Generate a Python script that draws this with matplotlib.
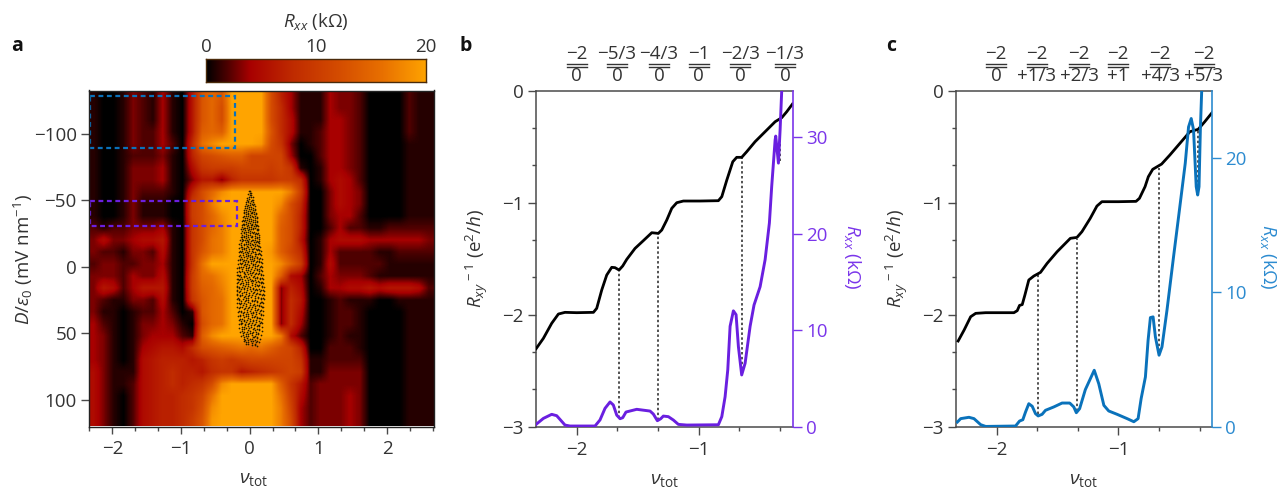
import numpy as np
import matplotlib
matplotlib.use("Agg")
import matplotlib.pyplot as plt
from matplotlib.colors import LinearSegmentedColormap
from matplotlib.lines import Line2D
from matplotlib.patches import Rectangle
from matplotlib.ticker import MultipleLocator, FixedLocator

plt.rcParams['font.family'] = ['Open Sans', 'DejaVu Sans']
plt.rcParams['mathtext.fontset'] = 'custom'
plt.rcParams['mathtext.rm'] = 'Open Sans'
plt.rcParams['mathtext.it'] = 'Open Sans:italic'
plt.rcParams['mathtext.bf'] = 'Open Sans:bold'

W, H = 1277, 487
TXT = '#333333'
AX = '#4a4a4a'
PURPLE = '#6a1fe0'
BLUE = '#0a72bb'
FS = 13.5

# Panel a: Rxx (kOhm) read on a coarse grid; columns nu_tot, rows D/eps0
rxx_map = [
 [1,0,0,1,3,2,1,4,1,0,6,13,15,13,20,20,20,20,12,7,4,1,1,1,4,3,3,2,0,0,0,0,2,1,1],
 [1,0,0,1,3,2,1,4,1,0,6,13,15,12,20,20,20,20,12,8,4,1,1,1,4,3,3,2,0,0,0,0,2,1,1],
 [1,0,0,1,3,2,1,4,1,0,6,13,15,12,20,20,20,20,12,8,5,1,1,1,4,4,3,2,0,0,0,0,2,1,1],
 [1,0,0,1,3,2,2,4,1,0,6,14,15,14,20,20,20,20,13,8,5,1,1,2,4,4,3,2,0,0,0,0,2,1,1],
 [1,0,0,1,3,2,2,4,2,0,8,16,18,20,20,20,20,19,12,9,3,0,1,2,4,4,3,2,0,0,0,0,1,1,1],
 [1,0,0,1,2,2,2,3,1,0,7,11,12,13,14,14,11,11,11,11,4,0,0,2,4,4,3,2,0,0,0,0,1,1,1],
 [1,0,0,1,3,3,3,4,1,0,5,9,10,10,10,11,11,11,10,11,9,1,0,1,4,4,3,2,0,0,0,0,1,1,1],
 [1,0,0,1,3,3,3,4,1,0,3,6,6,3,7,9,9,9,9,10,10,8,0,1,4,5,4,2,0,0,0,0,1,1,1],
 [1,0,0,1,3,2,2,2,1,0,7,12,15,18,20,20,20,20,20,20,17,10,0,0,3,5,4,3,0,0,0,0,1,1,1],
 [1,0,0,1,3,1,1,1,0,0,10,12,17,20,20,20,20,20,20,18,12,8,0,0,3,5,4,3,0,0,0,0,1,1,1],
 [1,0,0,1,3,1,1,1,0,0,10,12,15,18,20,20,20,20,20,15,12,7,0,0,3,4,4,2,0,0,0,0,1,1,1],
 [2,1,2,2,3,3,3,4,1,0,9,12,15,17,20,20,20,20,20,14,12,7,0,0,2,4,2,2,1,1,2,2,2,2,2],
 [3,5,3,3,4,5,5,6,1,0,9,12,16,17,20,20,20,20,20,14,12,6,0,1,4,5,5,5,4,4,4,4,4,4,3],
 [3,2,2,1,3,3,2,5,1,0,9,13,16,17,20,20,20,20,19,14,11,8,0,1,4,2,2,2,2,1,1,2,2,2,2],
 [2,3,3,2,2,3,3,4,1,0,9,16,20,20,20,20,20,20,20,18,14,10,0,1,5,2,2,2,2,2,1,1,1,1,1],
 [3,3,3,2,4,3,3,5,1,0,10,15,16,18,20,20,20,20,20,14,5,4,0,2,4,3,3,3,2,1,1,1,1,1,1],
 [3,6,5,2,4,6,6,6,1,0,10,14,15,17,20,20,20,20,20,3,7,5,0,1,4,4,5,5,6,5,6,6,6,5,2],
 [3,2,1,1,3,3,2,5,1,0,9,13,15,16,20,20,20,20,20,3,8,6,0,0,1,2,1,1,1,0,0,1,1,1,1],
 [3,1,1,0,1,2,2,4,2,0,1,13,15,16,20,20,20,20,20,3,8,5,0,0,1,2,2,1,0,0,0,0,1,1,1],
 [4,2,1,0,1,3,3,4,3,1,0,12,15,16,20,20,20,20,20,3,8,4,0,0,1,2,2,1,0,0,0,0,1,1,1],
 [4,3,1,0,1,3,4,4,4,2,1,14,18,20,20,20,20,20,20,17,5,2,0,0,1,2,1,1,0,0,0,0,1,1,1],
 [4,3,1,0,1,4,5,6,6,5,8,12,13,14,15,16,15,16,14,12,11,7,0,0,2,2,2,1,0,0,0,0,1,1,1],
 [4,3,1,0,1,5,6,7,7,7,6,7,9,10,9,10,11,11,11,11,11,9,1,1,2,2,2,2,0,0,0,0,1,1,1],
 [5,3,1,1,1,5,6,7,8,7,7,6,8,9,9,6,7,8,9,10,11,10,1,1,3,3,3,3,0,0,0,0,1,1,1],
 [5,3,1,1,2,5,6,7,8,7,8,9,12,18,20,20,20,20,20,14,9,6,2,3,3,3,3,3,0,0,0,0,1,1,1],
 [5,3,1,0,2,5,6,7,7,8,9,11,16,20,20,20,20,20,20,16,10,5,2,3,3,3,4,3,0,0,0,0,1,1,1],
 [5,3,1,0,2,5,6,7,7,8,9,12,18,20,20,20,20,20,20,17,11,4,2,3,3,3,4,3,0,0,0,0,1,1,1],
 [5,3,1,0,2,5,6,7,7,8,10,13,19,20,20,20,20,20,20,17,12,4,2,3,3,3,4,3,0,0,0,0,1,1,1],
]
map_extent = [-2.336, 2.684, 120, -132.6]
cbar_ticks = [0, 10, 20]
xticks_a = [-2, -1, 0, 1, 2]
yticks_a = [-100, -50, 0, 50, 100]

# speckled patch in panel a
speck_D = [-57,-54,-51,-48,-45,-42,-39,-36,-33,-30,-27,-24,-21,-18,-15,-12,-9,-6,-3,0,3,6,9,12,15,18,21,24,27,30,33,36,39,42,45,48,51,54,57]
speck_nu = [
 [-0.01,0.01],
 [-0.03,0.00,0.02],
 [-0.04,-0.01,0.03,0.05],
 [-0.06,-0.03,0.01,0.04,0.06],
 [-0.07,-0.04,-0.01,0.02,0.05,0.08],
 [-0.08,-0.05,-0.02,0.00,0.03,0.06,0.09],
 [-0.09,-0.06,-0.03,0.01,0.04,0.07,0.10],
 [-0.10,-0.07,-0.04,-0.01,0.02,0.05,0.08,0.11],
 [-0.11,-0.08,-0.05,-0.02,0.00,0.03,0.07,0.09,0.11],
 [-0.11,-0.09,-0.04,-0.01,0.02,0.05,0.08,0.10,0.12],
 [-0.12,-0.10,-0.07,-0.03,0.01,0.04,0.06,0.09,0.12],
 [-0.13,-0.09,-0.06,-0.02,0.00,0.03,0.07,0.10,0.13],
 [-0.13,-0.11,-0.08,-0.05,-0.01,0.03,0.05,0.08,0.11,0.13],
 [-0.14,-0.11,-0.06,-0.03,0.01,0.04,0.07,0.10,0.14],
 [-0.15,-0.12,-0.09,-0.04,-0.02,0.02,0.06,0.09,0.12,0.14],
 [-0.15,-0.11,-0.08,-0.06,-0.01,0.03,0.05,0.08,0.13,0.15],
 [-0.16,-0.13,-0.10,-0.05,-0.02,0.01,0.04,0.07,0.11,0.15],
 [-0.16,-0.12,-0.08,-0.04,0.00,0.03,0.06,0.10,0.13,0.16],
 [-0.17,-0.14,-0.10,-0.07,-0.03,0.02,0.05,0.08,0.12,0.16],
 [-0.17,-0.13,-0.09,-0.05,-0.01,0.03,0.07,0.11,0.14,0.17],
 [-0.18,-0.15,-0.11,-0.06,-0.02,0.01,0.05,0.09,0.13,0.17],
 [-0.18,-0.14,-0.09,-0.07,-0.03,0.02,0.06,0.10,0.15,0.18],
 [-0.18,-0.15,-0.12,-0.08,-0.04,0.00,0.04,0.08,0.12,0.16,0.18],
 [-0.19,-0.16,-0.11,-0.06,-0.02,0.03,0.07,0.11,0.14,0.18],
 [-0.19,-0.14,-0.10,-0.07,-0.03,0.01,0.05,0.09,0.13,0.17,0.19],
 [-0.19,-0.16,-0.12,-0.08,-0.04,0.02,0.06,0.10,0.15,0.19],
 [-0.19,-0.15,-0.11,-0.06,-0.01,0.03,0.08,0.12,0.16,0.19],
 [-0.18,-0.14,-0.09,-0.05,-0.02,0.04,0.07,0.11,0.17,0.18],
 [-0.18,-0.16,-0.12,-0.07,-0.03,0.01,0.06,0.10,0.14,0.17],
 [-0.18,-0.14,-0.10,-0.06,-0.01,0.03,0.08,0.12,0.16],
 [-0.18,-0.15,-0.08,-0.04,0.00,0.05,0.09,0.14,0.17],
 [-0.17,-0.13,-0.10,-0.05,-0.02,0.03,0.07,0.11,0.15],
 [-0.17,-0.14,-0.08,-0.03,0.01,0.05,0.09,0.13,0.16],
 [-0.16,-0.12,-0.09,-0.05,-0.01,0.04,0.08,0.12,0.14],
 [-0.16,-0.13,-0.07,-0.03,0.02,0.06,0.10,0.13],
 [-0.15,-0.11,-0.08,-0.02,0.01,0.05,0.09,0.12],
 [-0.14,-0.10,-0.05,-0.03,0.03,0.07,0.11],
 [-0.12,-0.08,-0.04,0.00,0.04,0.08,0.10],
 [-0.09,-0.06,-0.02,0.03,0.07],
]

# Panel b
nu_b = [-2.333,-2.273,-2.205,-2.15,-2.096,-2.0,-1.863,-1.836,-1.795,-1.754,-1.713,-1.686,-1.653,-1.623,-1.59,-1.522,-1.454,-1.385,-1.331,-1.303,-1.262,-1.221,-1.18,-1.126,-0.989,-0.839,-0.811,-0.77,-0.721,-0.689,-0.648,-0.607,-0.538,-0.456,-0.374,-0.32,-0.279,-0.232]
rinv_b = [-2.304,-2.211,-2.077,-1.994,-1.979,-1.982,-1.979,-1.943,-1.78,-1.646,-1.577,-1.58,-1.601,-1.565,-1.506,-1.408,-1.339,-1.268,-1.274,-1.244,-1.155,-1.05,-1.0,-0.985,-0.985,-0.982,-0.946,-0.798,-0.634,-0.595,-0.595,-0.545,-0.455,-0.366,-0.277,-0.241,-0.188,-0.119]
nu_bx = [-2.333,-2.273,-2.205,-2.164,-2.096,-2.055,-1.85,-1.809,-1.768,-1.727,-1.7,-1.672,-1.645,-1.623,-1.596,-1.508,-1.399,-1.372,-1.339,-1.311,-1.29,-1.249,-1.208,-1.167,-1.098,-0.839,-0.811,-0.784,-0.762,-0.743,-0.716,-0.694,-0.675,-0.648,-0.62,-0.579,-0.547,-0.497,-0.456,-0.421,-0.402,-0.374,-0.369,-0.347,-0.333,-0.32]
rxx_b = [0.24,0.86,1.28,1.14,0.17,0.07,0.07,0.7,1.9,2.56,2.25,1.2,0.83,0.93,1.52,1.8,1.62,1.31,0.62,0.83,1.1,1.04,0.69,0.24,0.17,0.2,1.04,3.1,5.9,10.4,12.0,11.6,8.3,5.36,6.57,10.4,12.6,14.5,17.3,21.1,24.9,29.7,30.1,27.3,30.8,34.8]
drop_b_nu = [-1.65,-1.333,-0.645,-0.338]
drop_b_top = [-1.60,-1.275,-0.595,-0.25]
drop_b_bot = [-2.92,-2.94,-2.53,-0.63]
top_b_num = ['−2','−5/3','−4/3','−1','−2/3','−1/3']
top_b_den = ['0','0','0','0','0','0']

# Panel c
nu_c = [-2.316,-2.267,-2.213,-2.172,-2.09,-1.858,-1.831,-1.812,-1.79,-1.768,-1.736,-1.695,-1.64,-1.586,-1.504,-1.395,-1.341,-1.3,-1.232,-1.177,-1.136,-1.0,-0.856,-0.828,-0.782,-0.755,-0.719,-0.646,-0.578,-0.496,-0.414,-0.346,-0.292,-0.232]
rinv_c = [-2.235,-2.137,-2.018,-1.988,-1.982,-1.982,-1.964,-1.917,-1.91,-1.824,-1.69,-1.655,-1.622,-1.542,-1.438,-1.318,-1.31,-1.259,-1.14,-1.03,-0.991,-0.991,-0.988,-0.961,-0.857,-0.768,-0.702,-0.655,-0.574,-0.47,-0.366,-0.345,-0.277,-0.196]
nu_cx = [-2.322,-2.295,-2.227,-2.186,-2.131,-2.09,-1.845,-1.812,-1.785,-1.763,-1.736,-1.708,-1.681,-1.659,-1.627,-1.599,-1.531,-1.463,-1.4,-1.367,-1.346,-1.319,-1.272,-1.199,-1.162,-1.12,-1.08,-1.011,-0.929,-0.874,-0.839,-0.814,-0.779,-0.757,-0.738,-0.716,-0.697,-0.667,-0.643,-0.602,-0.548,-0.507,-0.452,-0.425,-0.403,-0.384,-0.362,-0.35,-0.339,-0.328,-0.317]
rxx_c = [0.35,0.6,0.7,0.6,0.15,0.02,0.05,0.42,0.52,1.09,1.71,1.52,0.97,0.8,0.92,1.22,1.47,1.76,1.76,1.47,1.04,1.34,2.76,4.2,3.2,1.59,1.17,0.92,0.6,0.37,0.6,2.09,3.7,6.43,8.12,8.17,6.68,5.32,5.94,8.67,12.65,15.6,19.6,22.3,22.93,22.09,17.86,17.24,17.86,22.1,25.0]
drop_c_nu = [-1.66,-1.343,-0.667,-0.35]
drop_c_top = [-1.63,-1.32,-0.69,-0.35]
drop_c_bot = [-2.89,-2.86,-2.32,-0.90]
top_c_num = ['−2','−2','−2','−2','−2','−2']
top_c_den = ['0','+1/3','+2/3','+1','+4/3','+5/3']
xticks_lr = [-2, -1]
yticks_l = [0, -1, -2, -3]


def axpx(x0, y0, x1, y1):
    return fig.add_axes([x0 / W, 1 - y1 / H, (x1 - x0) / W, (y1 - y0) / H])


def tpx(x, y, s, **kw):
    kw.setdefault('ha', 'center')
    kw.setdefault('va', 'center')
    kw.setdefault('color', TXT)
    kw.setdefault('fontsize', FS)
    return fig.text(x / W, 1 - y / H, s, **kw)


fig = plt.figure(figsize=(W / 100, H / 100), dpi=100)
cmap = LinearSegmentedColormap.from_list('rxx', [(0, '#000000'), (0.1, '#500000'), (0.2, '#a80000'),
                                                 (0.4, '#c02c00'), (0.6, '#d44c00'), (0.8, '#e87000'), (1, '#ffa400')])

# ---------- panel a
ax = axpx(89.3, 90.5, 434, 426.5)
ax.imshow(np.array(rxx_map, float), extent=map_extent, aspect='auto', cmap=cmap, vmin=0, vmax=20,
          interpolation='bilinear')
for d, row in zip(speck_D, speck_nu):
    r = np.array(row)
    ax.scatter(r, d + 14 * r, s=1.5, c='#1f1800', linewidths=0, marker='o')
    ax.scatter(-r[::-1] + 0.012, d + 1.5 - 14 * r[::-1] * 0.7, s=1.5, c='#1f1800', linewidths=0, marker='o')
ax.add_patch(Rectangle((-2.33, -128.6), 2.12, 39.1, fill=False, ec=BLUE, lw=1.6, ls=(0, (2.2, 1.6))))
ax.add_patch(Rectangle((-2.33, -49.6), 2.145, 19, fill=False, ec=PURPLE, lw=1.6, ls=(0, (2.2, 1.6))))
ax.set_xlim(map_extent[0], map_extent[1])
ax.set_ylim(map_extent[2], map_extent[3])
ax.set_xticks(xticks_a)
ax.xaxis.set_minor_locator(MultipleLocator(1 / 3))
ax.set_yticks(yticks_a)
ax.set_yticklabels(['−100', '−50', '0', '50', '100'], fontsize=FS, color=TXT)
ax.set_xticklabels(['−2', '−1', '0', '1', '2'], fontsize=FS, color=TXT)
ax.tick_params(axis='x', which='major', length=5, width=1, color=AX, pad=5)
ax.tick_params(axis='x', which='minor', length=3, width=1, color=AX)
ax.tick_params(axis='y', which='major', length=6, width=1, color=AX, pad=3)
for s in ax.spines.values():
    s.set_color('#222222')
    s.set_linewidth(1)
tpx(254, 479, r'$\nu_{\mathrm{tot}}$', fontsize=14)
tpx(23, 260, r'$D/\varepsilon_0$ (mV nm$^{-1}$)', rotation=90)
tpx(17, 46, 'a', fontweight='bold', fontsize=14, color='#111111')

cax = axpx(206, 59.3, 426.3, 81.7)
cax.imshow(np.linspace(0, 20, 256)[None, :], extent=[0, 20, 0, 1], aspect='auto', cmap=cmap, vmin=0, vmax=20)
cax.set_xticks([])
cax.set_yticks([])
for s in cax.spines.values():
    s.set_color('#4a2a0a')
    s.set_linewidth(1)
for v in cbar_ticks:
    tpx(206 + v * 11.0, 47, str(v))
tpx(316, 22, r'$R_{xx}$ (kΩ)')


# ---------- panels b, c
def panel(x0, x1, nu, rinv, nux, rxx, rtop, rticks, col, col_l, dn, dt, db, num, den, fx, letter, lx):
    a = axpx(x0, 90.7, x1, 426.7)
    a.set_xlim(-2.336, -0.23)
    a.set_ylim(-3, 0)
    a.set_xticks(xticks_lr)
    a.set_xticklabels(['−2', '−1'], fontsize=FS, color=TXT)
    a.xaxis.set_minor_locator(FixedLocator([-5 / 3, -4 / 3, -2 / 3, -1 / 3]))
    a.set_yticks(yticks_l)
    a.set_yticklabels(['0', '−1', '−2', '−3'], fontsize=FS, color=TXT)
    a.yaxis.set_minor_locator(MultipleLocator(1 / 3))
    a.tick_params(axis='both', which='major', length=5.5, width=1, color=AX, pad=3)
    a.tick_params(axis='x', which='major', pad=5)
    a.tick_params(axis='both', which='minor', length=3, width=1, color=AX)
    a.spines['right'].set_visible(False)
    for s in ['left', 'top', 'bottom']:
        a.spines[s].set_color(AX)
        a.spines[s].set_linewidth(1.1)
    a.vlines(dn, db, dt, colors='#222222', lw=1.1, linestyles=(0, (1.6, 1.6)), zorder=2)
    a.plot(nu, rinv, color='black', lw=2.0, solid_joinstyle='round', zorder=4)

    b = a.twinx()
    b.set_ylim(0, rtop)
    b.set_yticks(rticks)
    b.set_yticklabels([str(t) for t in rticks], fontsize=FS, color=col_l)
    b.tick_params(axis='y', which='major', length=6.5, width=1, color=col_l, pad=3)
    for s in ['left', 'top', 'bottom']:
        b.spines[s].set_visible(False)
    b.spines['right'].set_color(col_l)
    b.spines['right'].set_linewidth(1.2)
    b.plot(nux, rxx, color=col, lw=2.1, solid_joinstyle='round', zorder=5)

    for fxi, n, d in zip(fx, num, den):
        tpx(fxi, 54, n)
        tpx(fxi, 76, d)
        for yy in (64.2, 66.6):
            fig.add_artist(Line2D([(fxi - 10) / W, (fxi + 10) / W], [1 - yy / H, 1 - yy / H], color='#333333', lw=1.0))
    tpx((x0 + x1) / 2, 480, r'$\nu_{\mathrm{tot}}$', fontsize=14)
    tpx(x0 - 58.5, 258, r'$R_{xy}$$^{\,-1}$ (e$^2$/$h$)', rotation=90)
    tpx(lx[0], 46, letter, fontweight='bold', fontsize=14, color='#111111')
    tpx(lx[1], 257, r'$R_{xx}$ (kΩ)', rotation=270, color=col_l)


panel(535.7, 792.7, nu_b, rinv_b, nu_bx, rxx_b, 34.8, [0, 10, 20, 30], PURPLE, '#7a35ea',
      drop_b_nu, drop_b_top, drop_b_bot, top_b_num, top_b_den,
      [576.7, 617, 659, 698.7, 740, 785], 'b', (466, 852))
panel(955.7, 1212.3, nu_c, rinv_c, nu_cx, rxx_c, 25.0, [0, 10, 20], BLUE, '#2c8bd0',
      drop_c_nu, drop_c_top, drop_c_bot, top_c_num, top_c_den,
      [996, 1037, 1079, 1118, 1160, 1203.5], 'c', (891, 1268))

fig.savefig('out.png', dpi=100)
